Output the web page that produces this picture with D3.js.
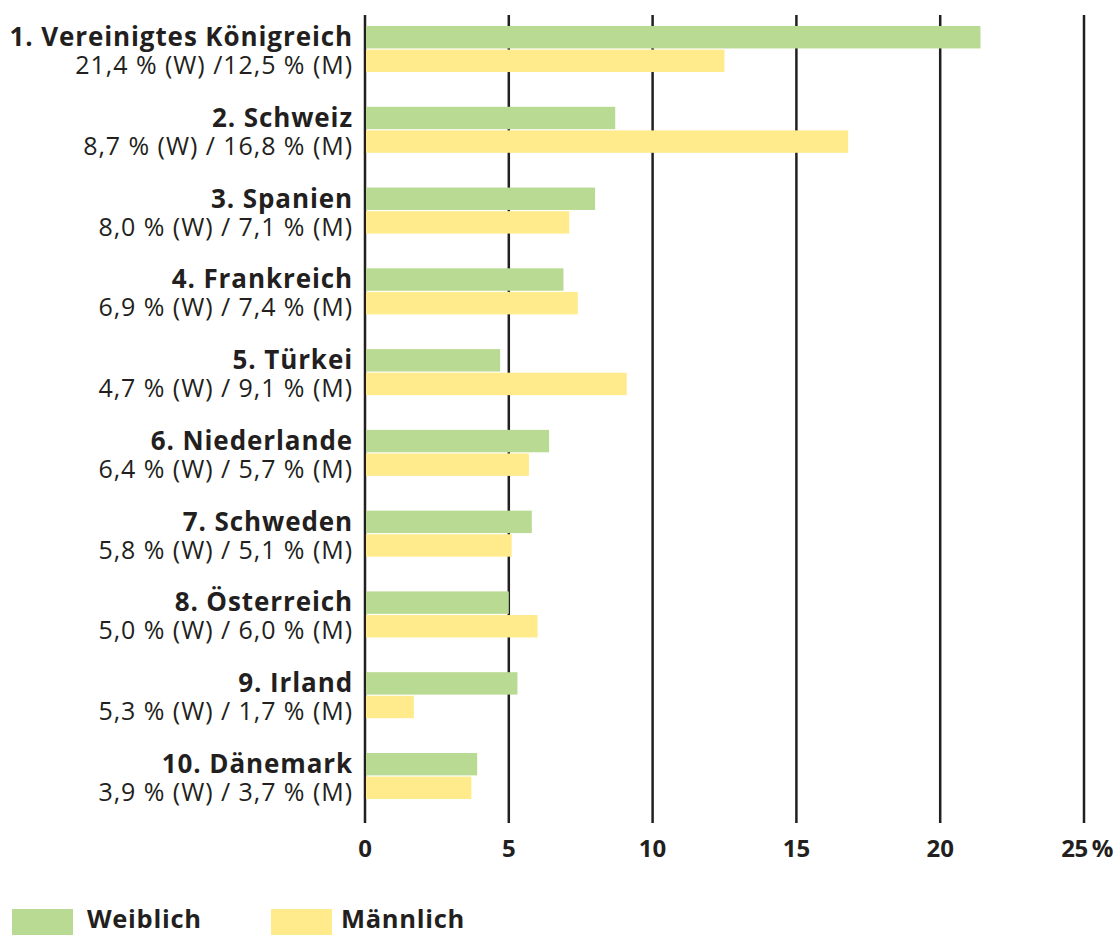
<!DOCTYPE html>
<html lang="de">
<head>
<meta charset="utf-8">
<title>Anteil nach Ländern</title>
<script src="https://d3js.org/d3.v7.min.js"></script>
<style>
  body { margin: 0; background: #fff; }
  text { font-family: "Open Sans", sans-serif; fill: #231f20; }
</style>
</head>
<body>
<script>
// data
const countries = ["1. Vereinigtes Königreich", "2. Schweiz", "3. Spanien", "4. Frankreich", "5. Türkei",
  "6. Niederlande", "7. Schweden", "8. Österreich", "9. Irland", "10. Dänemark"];
const women = [21.4, 8.7, 8.0, 6.9, 4.7, 6.4, 5.8, 5.0, 5.3, 3.9];
const men = [12.5, 16.8, 7.1, 7.4, 9.1, 5.7, 5.1, 6.0, 1.7, 3.7];
const subLabels = ["21,4 % (W) /12,5 % (M)", "8,7 % (W) / 16,8 % (M)", "8,0 % (W) / 7,1 % (M)",
  "6,9 % (W) / 7,4 % (M)", "4,7 % (W) / 9,1 % (M)", "6,4 % (W) / 5,7 % (M)", "5,8 % (W) / 5,1 % (M)",
  "5,0 % (W) / 6,0 % (M)", "5,3 % (W) / 1,7 % (M)", "3,9 % (W) / 3,7 % (M)"];
const tickValues = [0, 5, 10, 15, 20, 25];
const seriesNames = ["Weiblich", "Männlich"];
const colors = ["#b9da93", "#ffeb8c"];

const W = 1117, H = 935;
const svg = d3.select("body").append("svg").attr("width", W).attr("height", H);

const x = d3.scaleLinear().domain([0, 25]).range([365, 1084]);
const y = d3.scaleBand().domain(countries).range([26, 799]).paddingInner(0.43);
const inner = d3.scaleBand().domain([0, 1]).range([0, y.bandwidth()]).paddingInner(0.05);

// grid lines
svg.append("g").selectAll("line").data(tickValues).join("line")
  .attr("x1", d => x(d)).attr("x2", d => x(d))
  .attr("y1", 15).attr("y2", 823)
  .attr("stroke", "#231f20").attr("stroke-width", 2.5);

// bars
const rows = countries.map((c, i) => ({c, vals: [women[i], men[i]]}));
const g = svg.append("g").selectAll("g").data(rows).join("g")
  .attr("transform", d => "translate(0," + y(d.c) + ")");

g.selectAll("rect").data(d => d.vals.map((v, k) => ({v, k}))).join("rect")
  .attr("x", x(0) + 1)
  .attr("y", d => inner(d.k))
  .attr("width", d => x(d.v) - x(0) - 1)
  .attr("height", inner.bandwidth())
  .attr("fill", d => colors[d.k]);

// labels
g.append("text")
  .attr("x", 353).attr("y", 20)
  .attr("text-anchor", "end")
  .style("font-weight", 700).style("font-size", "26px").style("letter-spacing", "0.9px")
  .text(d => d.c);
g.append("text")
  .attr("x", 353).attr("y", 48)
  .attr("text-anchor", "end")
  .style("font-size", "25px").style("letter-spacing", "0.95px")
  .text((d, i) => subLabels[i]);

// x axis labels
const ax = svg.append("g");
ax.selectAll("text").data(tickValues).join("text")
  .attr("x", d => x(d)).attr("y", 857)
  .attr("text-anchor", "middle")
  .style("font-weight", 700).style("font-size", "24px")
  .text(d => d);
// last one carries the percent sign
ax.selectAll("text").filter(d => d === 25)
  .attr("text-anchor", "end").attr("x", 1113)
  .style("letter-spacing", "-0.3px")
  .text("25\u2009%");

// legend
const leg = svg.append("g").selectAll("g").data(seriesNames).join("g")
  .attr("transform", (d, i) => "translate(" + [12, 271][i] + ",909)");
leg.append("rect").attr("width", 61).attr("height", 26).attr("fill", (d, i) => colors[i]);
leg.append("text").attr("x", (d, i) => [75, 70][i]).attr("y", 19)
  .style("font-weight", 700).style("font-size", "25.5px").style("letter-spacing", "0.7px")
  .text(d => d);
</script>
</body>
</html>
